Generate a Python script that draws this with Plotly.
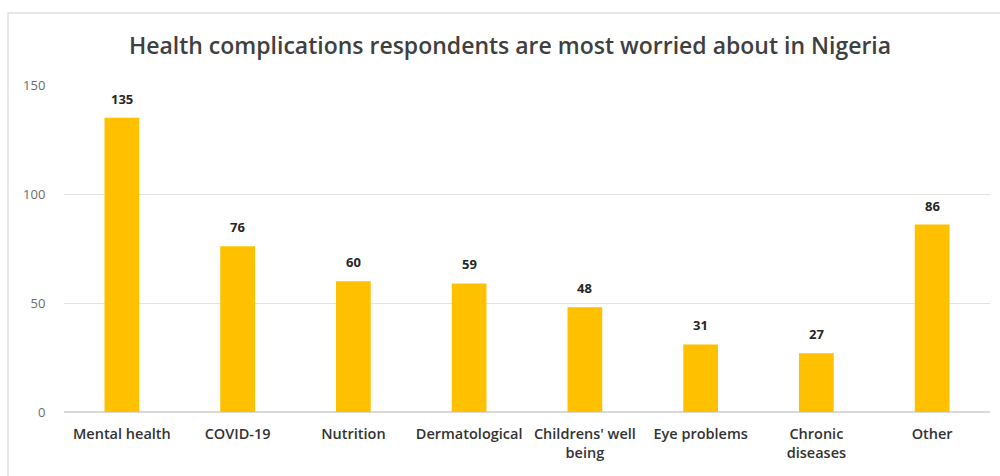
import plotly.graph_objects as go

categories = ["Mental health", "COVID-19", "Nutrition", "Dermatological",
              "Childrens' well<br>being", "Eye problems", "Chronic<br>diseases", "Other"]
values = [135, 76, 60, 59, 48, 31, 27, 86]
y_ticks = [0, 50, 100, 150]

FONT = "Open Sans"

fig = go.Figure(go.Bar(
    x=categories, y=values,
    marker=dict(color="#FFC000", line=dict(width=0)),
    cliponaxis=False,
))

for c, v in zip(categories, values):
    fig.add_annotation(x=c, y=v, text=str(v), showarrow=False,
                       yanchor="bottom", yshift=8,
                       font=dict(family=FONT, size=13, color="#262626", weight="bold"))

fig.update_layout(
    width=1000, height=476,
    margin=dict(l=64, r=10, t=85, b=64),
    paper_bgcolor="white", plot_bgcolor="white",
    bargap=0.7,
    showlegend=False,
    title=dict(text="Health complications respondents are most worried about in Nigeria",
               x=0.51, xanchor="center", y=1 - 46/476, yanchor="middle",
               font=dict(family=FONT, size=23, color="#404040", weight=600)),
    yaxis=dict(range=[0, 150], tickvals=y_ticks, showgrid=True, gridcolor="#e3e3e3",
               gridwidth=1, zeroline=True, zerolinecolor="#d9d9d9", showline=False,
               ticks="outside", ticklen=15, tickcolor="rgba(0,0,0,0)",
               tickfont=dict(family=FONT, size=13, color="#6b6b6b")),
    xaxis=dict(showgrid=False, showline=False, ticks="outside", ticklen=9,
               tickcolor="rgba(0,0,0,0)", tickangle=0,
               tickfont=dict(family=FONT, size=14.5, color="#333333", weight=600)),
    shapes=[dict(type="rect", xref="paper", yref="paper",
                 x0=-56/926, x1=1.02, y0=-0.3, y1=(476-13-64)/327,
                 line=dict(color="#e0e0e0", width=1.5), fillcolor="rgba(0,0,0,0)",
                 layer="below")],
)

fig.write_html("out.html")
